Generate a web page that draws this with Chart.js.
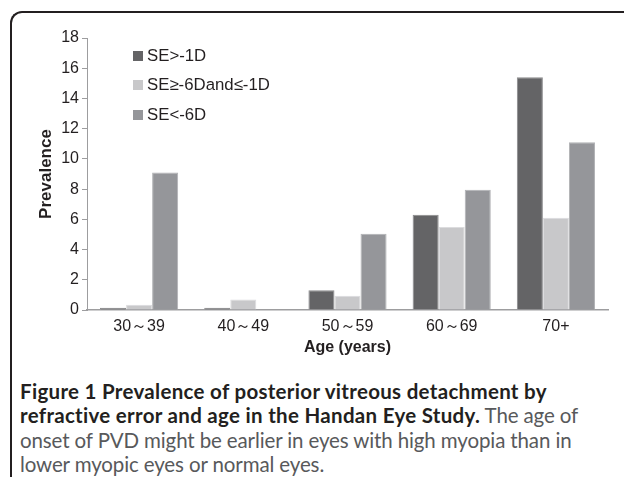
<!DOCTYPE html>
<html>
<head>
<meta charset="utf-8">
<script src="https://cdn.jsdelivr.net/npm/chart.js@4"></script>
<style>
  body { margin: 0; background: #fff; }
  #page { position: relative; width: 624px; height: 477px; overflow: hidden; background: #fff; }
  #frame { position: absolute; left: 10px; top: 11px; width: 700px; height: 470px;
           border-left: 2px solid #231f20; border-top: 2px solid #231f20; border-top-left-radius: 12px; }
  #chartBox { position: absolute; left: 0; top: 0; width: 624px; height: 365px; }
  #legend { position: absolute; left: 133px; top: 41px; font-family: 'Liberation Sans', Arial, sans-serif;
            font-size: 16.8px; color: #231f20; }
  #legend .item { height: 29.5px; display: flex; align-items: center; white-space: nowrap; }
  #legend .swatch { width: 10px; height: 10px; margin-right: 4px; }
  #caption { position: absolute; left: 20px; top: 379px; font-family: Lato, 'Open Sans', sans-serif;
             font-size: 20.5px; line-height: 24.3px; color: #58595b; white-space: nowrap; letter-spacing: -0.12px; }
  #caption b { color: #231f20; letter-spacing: 0.3px; }
</style>
</head>
<body>
<div id="page">
  <div id="frame"></div>
  <div id="chartBox"><canvas id="pvdChart"></canvas></div>
  <div id="legend"></div>
  <div id="caption">
    <b>Figure 1 Prevalence of posterior vitreous detachment by</b><br>
    <b>refractive error and age in the Handan Eye Study.</b> The age of<br>
    onset of PVD might be earlier in eyes with high myopia than in<br>
    lower myopic eyes or normal eyes.
  </div>
</div>
<script>
// values
const ageGroups = ['30～39', '40～49', '50～59', '60～69', '70+'];
const seAbove1D = [0.15, 0.15, 1.3, 6.3, 15.4];
const seBetween = [0.35, 0.7, 0.95, 5.5, 6.1];
const seBelow6D = [9.1, 0, 5.05, 7.95, 11.1];
const seriesNames = ['SE>-1D', 'SE≥-6Dand≤-1D', 'SE<-6D'];
const yMax = 18;
const yStep = 2;

const fillColors = ['#646466', '#c8c8ca', '#95969a'];
const edgeColors = ['#8a8a8c', '#dcdcde', '#b0b1b4'];
const axisColor = '#9d9d9f';
const textColor = '#231f20';
const fontFamily = "'Liberation Sans', Arial, sans-serif";

document.addEventListener('DOMContentLoaded', function() {
    const datasets = [seAbove1D, seBetween, seBelow6D].map((values, i) => ({
        label: seriesNames[i],
        data: values,
        backgroundColor: fillColors[i],
        borderColor: edgeColors[i],
        borderWidth: 1,
        borderSkipped: 'start',
        categoryPercentage: 0.75,
        barPercentage: 1.0
    }));

    buildLegend(datasets);

    const ctx = document.getElementById('pvdChart').getContext('2d');
    new Chart(ctx, {
        type: 'bar',
        data: {
            labels: ageGroups,
            datasets: datasets
        },
        options: {
            responsive: true,
            maintainAspectRatio: false,
            animation: false,
            layout: { padding: { left: 30, top: 38, right: 16, bottom: 0 } },
            plugins: {
                legend: { display: false },
                tooltip: { enabled: false }
            },
            scales: {
                x: {
                    offset: true,
                    grid: { display: false, drawTicks: false },
                    border: { display: true, color: axisColor, width: 1.5 },
                    ticks: { color: textColor, font: { family: fontFamily, size: 16 }, padding: 7 },
                    title: {
                        display: true,
                        text: 'Age (years)',
                        color: textColor,
                        font: { family: fontFamily, size: 16, weight: 'bold' },
                        padding: { top: 0, bottom: 8 }
                    },
                    afterFit: scale => { scale.height = 55; }
                },
                y: {
                    min: 0,
                    max: yMax,
                    ticks: { stepSize: yStep, padding: 3, color: textColor, font: { family: fontFamily, size: 16 } },
                    grid: { drawOnChartArea: false, drawTicks: true, tickLength: 5, color: axisColor },
                    border: { display: true, color: axisColor, width: 1 },
                    title: {
                        display: true,
                        text: 'Prevalence',
                        color: textColor,
                        font: { family: fontFamily, size: 17, weight: 'bold' },
                        padding: { top: 6, bottom: 0 }
                    },
                    afterFit: scale => { scale.width = 57; }
                }
            }
        }
    });
});

function buildLegend(datasets) {
    const box = document.getElementById('legend');
    datasets.forEach(ds => {
        const item = document.createElement('div');
        item.className = 'item';
        const sw = document.createElement('span');
        sw.className = 'swatch';
        sw.style.background = ds.backgroundColor;
        const txt = document.createElement('span');
        txt.textContent = ds.label;
        item.appendChild(sw);
        item.appendChild(txt);
        box.appendChild(item);
    });
}
</script>
</body>
</html>
